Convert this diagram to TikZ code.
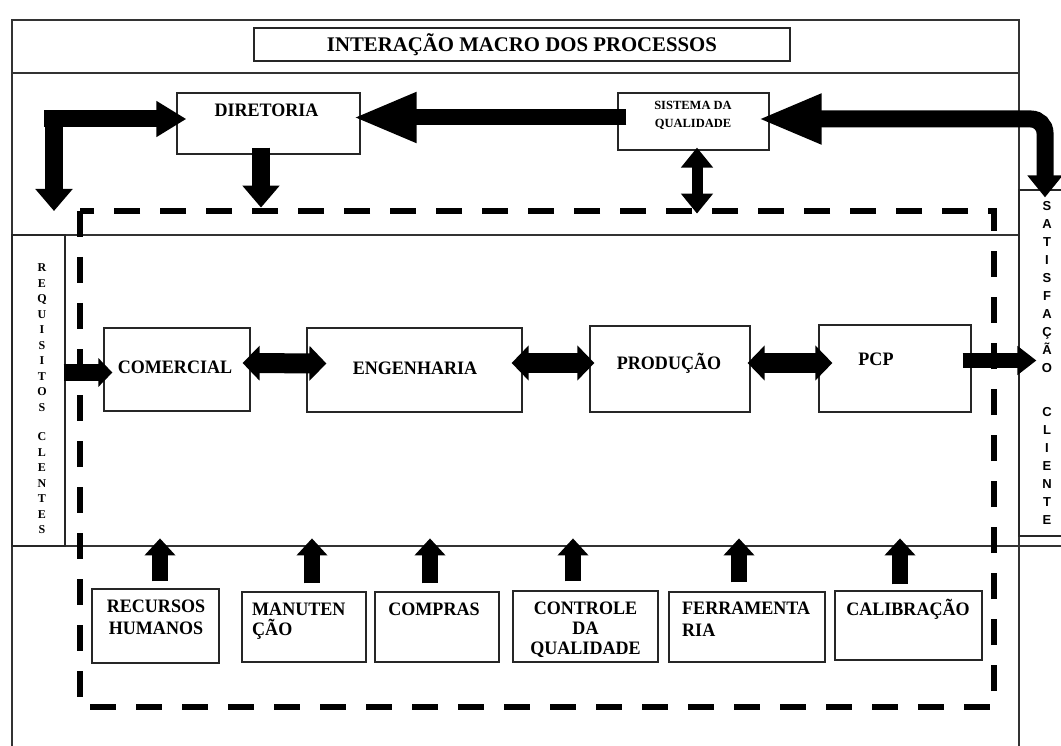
\documentclass[tikz,border=0pt]{standalone}
\usepackage{fontspec}
\setmainfont{Liberation Serif}
\newfontfamily\boxfont[FakeStretch=0.95]{Liberation Serif}
\newfontfamily\sidefont{Liberation Sans}
\usetikzlibrary{arrows.meta,calc}

\tikzset{
  sheet/.style={line width=1.2pt, draw=black!80},
  box/.style={draw=black!85, line width=1.2pt, fill=white, inner sep=0pt},
  lbl/.style={font=\boxfont\bfseries\fontsize{19}{20}\selectfont, inner sep=0pt},
  sqlbl/.style={font=\bfseries\fontsize{12.5}{18}\selectfont, inner sep=0pt, align=center},
  bigarrow/.style={line width=16pt, -{Triangle[length=64pt,width=46pt]}},
  sidearrow/.style={line width=17pt, -{Triangle[length=30pt,width=34pt]}},
  downarrow/.style={line width=18pt, -{Triangle[length=22pt,width=36pt]}},
  twoway/.style={line width=11pt, {Triangle[length=20pt,width=31pt]}-{Triangle[length=20pt,width=31pt]}},
  inarrow/.style={line width=17pt, -{Triangle[length=14pt,width=28pt]}},
  linkarrow/.style={line width=20pt, {Triangle[length=17pt,width=34pt]}-{Triangle[length=17pt,width=34pt]}},
  outarrow/.style={line width=15pt, -{Triangle[length=19pt,width=28pt]}},
  feedarrow/.style={line width=16pt, -{Triangle[length=17pt,width=30pt]}},
}

\begin{document}
\begin{tikzpicture}[x=1pt,y=-1pt]
	\useasboundingbox (0,0) rectangle (1061,746);
	
	%%%%% sheet %%%%%
	\draw[sheet] (12,746) -- (12,20) -- (1019,20) -- (1019,746);
	\draw[sheet] (12,73) -- (1019,73);
	\draw[sheet] (12,235) -- (1019,235);
	\draw[sheet] (12,546) -- (1061,546);
	
	\draw[line width=6pt, dash pattern=on 26pt off 20pt] (80,211) rectangle (994,707);
	
	%%%%% boxes %%%%%
	\node[box, minimum width=536pt, minimum height=33pt, font=\bfseries\fontsize{20.8}{24}\selectfont] (title) at (522,44.5) {INTERAÇÃO MACRO DOS PROCESSOS};
	
	\node[box, minimum width=183pt, minimum height=61pt] (dir) at (268.5,123.5) {};
	\node[box, minimum width=151pt, minimum height=57pt] (sq) at (693.5,121.5) {};
	
	\node[box, minimum width=53pt, minimum height=311pt, fill=none] (req) at (38.5,390.5) {};
	\node[box, minimum width=56pt, minimum height=346pt, align=center, font=\sidefont\bfseries\fontsize{13}{18}\selectfont] (sat) at (1047,363) {S\\A\\T\\I\\S\\F\\A\\Ç\\Ã\\O\\[26pt]C\\L\\I\\E\\N\\T\\E};
	
	\node[box, minimum width=146pt, minimum height=83pt] (com) at (177,369.5) {};
	\node[box, minimum width=215pt, minimum height=84pt] (eng) at (414.5,370) {};
	\node[box, minimum width=160pt, minimum height=86pt] (prod) at (670,369) {};
	\node[box, minimum width=152pt, minimum height=87pt] (pcp) at (895,368.5) {};
	
	\node[box, minimum width=127pt, minimum height=74pt] (rh) at (155.5,626) {};
	\node[box, minimum width=124pt, minimum height=70pt] (man) at (304,627) {};
	\node[box, minimum width=124pt, minimum height=70pt] (comp) at (437,627) {};
	\node[box, minimum width=145pt, minimum height=71pt] (cq) at (585.5,626.5) {};
	\node[box, minimum width=156pt, minimum height=70pt] (ferr) at (747,627) {};
	\node[box, minimum width=147pt, minimum height=69pt] (cal) at (908.5,625.5) {};
	
	%%%%% texts %%%%%
	\node[lbl, anchor=base] (dirtxt) at (266.5,117) {DIRETORIA};
	\node[sqlbl, anchor=north] (sqtxt) at (693,101) {SISTEMA DA\\QUALIDADE};
	\node[align=center, inner sep=0pt, font=\bfseries\fontsize{12}{15.5}\selectfont] (reqtxt) at (42,399) {R\\E\\Q\\U\\I\\S\\I\\T\\O\\S\\[14pt]C\\L\\E\\N\\T\\E\\S};
	
	\node[lbl, anchor=base] (comtxt) at (175,373) {COMERCIAL};
	\node[lbl, anchor=base] (engtxt) at (415,374) {ENGENHARIA};
	\node[lbl, anchor=base] (prodtxt) at (669,369) {PRODUÇÃO};
	\node[lbl, anchor=base] (pcptxt) at (876,365) {PCP};
	
	\node[lbl, anchor=north, align=center] (rhtxt) at (156,600) {RECURSOS\\[2pt]HUMANOS};
	\node[lbl, anchor=north west, align=left] (mantxt) at (252,603) {MANUTEN\\ÇÃO};
	\node[lbl, anchor=base] (comptxt) at (434,615) {COMPRAS};
	\node[lbl, anchor=north, align=center] (cqtxt) at (585.5,602) {CONTROLE\\DA\\QUALIDADE};
	\node[lbl, anchor=north west, align=left] (ferrtxt) at (682,602) {FERRAMENTA\\[2pt]RIA};
	\node[lbl, anchor=base] (caltxt) at (908,615) {CALIBRAÇÃO};
	
	%%%%% arrows %%%%%
	\coordinate (lc) at (54,119);
	\coordinate (rc) at (1045,119);
	
	\draw[bigarrow] ($(sq.west)+(9,-4)$) -- ($(dir.east)+(-8,-6)$);
	\draw[sidearrow] ($(lc)+(-10,0)$) -- ($(dir.west)+(10,-4.5)$);
	\draw[downarrow] ($(lc)+(0,-8.5)$) -- ($(lc)+(0,92)$);
	\draw[downarrow] ($(dir.south)+(-7.5,-7)$) -- ($(dir.south)+(-7.5,53)$);
	\draw[twoway] ($(sq.south)+(3.5,-3)$) -- ($(sq.south)+(3.5,63)$);
	\draw[line width=17pt, rounded corners=14pt, {Triangle[length=64pt,width=46pt]}-{Triangle[length=22pt,width=34pt]}] ($(sq.east)+(-12,-2.5)$) -- (rc) -- ($(sat.north -| rc)+(0,8)$);
	
	\draw[inarrow] ($(req.east |- com.west)+(-2,3)$) -- ($(com.west)+(9,3)$);
	\draw[linkarrow] ($(com.east)+(-8,-6.5)$) -- ($(eng.west)+(20,-6.5)$);
	\draw[linkarrow] ($(eng.east)+(-11,-7)$) -- ($(prod.west)+(5,-6)$);
	\draw[linkarrow] ($(prod.east)+(-3,-6)$) -- ($(pcp.west)+(14,-5.5)$);
	\draw[outarrow] ($(pcp.east)+(-9,-8)$) -- ($(sat.west)+(18,-2.5)$);
	
	\draw[feedarrow] ($(rh.north)+(4.5,-7)$) -- ($(rh.north)+(4.5,-50)$);
	\draw[feedarrow] ($(man.north)+(8,-8)$) -- ($(man.north)+(8,-53)$);
	\draw[feedarrow] ($(comp.north)+(-7,-8)$) -- ($(comp.north)+(-7,-53)$);
	\draw[feedarrow] ($(cq.north)+(-12.5,-9)$) -- ($(cq.north)+(-12.5,-52)$);
	\draw[feedarrow] ($(ferr.north)+(-8,-9)$) -- ($(ferr.north)+(-8,-53)$);
	\draw[feedarrow] ($(cal.north)+(-8.5,-6)$) -- ($(cal.north)+(-8.5,-52)$);
\end{tikzpicture}
\end{document}
